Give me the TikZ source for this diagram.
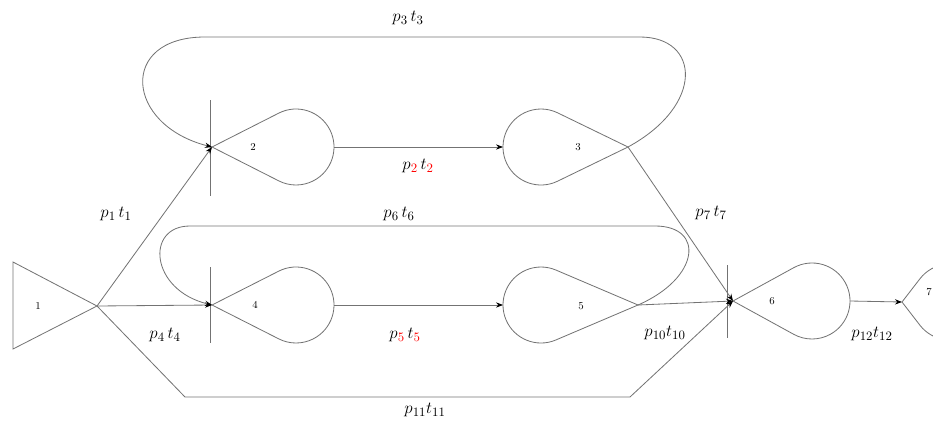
\documentclass[tikz,border=0pt]{standalone}
\usetikzlibrary{arrows.meta,calc}
\begin{document}
\begin{tikzpicture}[x=0.03cm,y=-0.03cm,
  ln/.style={draw=black!55, line width=0.7pt},
  arr/.style={ln, -{Stealth[length=6pt,width=4.5pt,black]}},
  lab/.style={font=\fontsize{15}{17}\selectfont, inner sep=1pt},
  num/.style={font=\small, inner sep=0pt}]
\useasboundingbox (0,0) rectangle (933,421);
\clip (0,0) rectangle (933,421);
% #1 apex, #2 centre, #3 direction of apex seen from centre, #4 apex distance (px)
\newcommand\tear[4]{\draw[ln] (#1) -- ($(#2)+({#3-acos(38/#4)}:1.14cm)$)
   arc[start angle={#3-acos(38/#4)}, end angle={#3+acos(38/#4)-360}, radius=1.14cm] -- cycle;}
% apexes and centres
\coordinate (a1) at (97,306);
\coordinate (a2) at (212,147); \coordinate (c2) at (296,147);
\coordinate (a3) at (628,147); \coordinate (c3) at (541,147);
\coordinate (a4) at (212,305); \coordinate (c4) at (296,305);
\coordinate (a5) at (638,305); \coordinate (c5) at (541,305);
\coordinate (a6) at (733,301); \coordinate (c6) at (812,301);
\coordinate (a7) at (902,302); \coordinate (c7) at (950,302);
\coordinate (e2) at (334,147); \coordinate (w3) at (503,147);
\coordinate (e4) at (334,305); \coordinate (w5) at (503,305);
\coordinate (e6) at (850,301);
% node 1
\draw[ln] (13,262) -- (a1) -- (13,349) -- cycle;
\node[num] (n1) at (38,306) {1};
% node 2
\draw[ln] (210,100) -- (210,196);
\tear{a2}{c2}{180}{84}
\node[num] (n2) at (253,147) {2};
% node 3
\tear{a3}{c3}{0}{87}
\node[num] (n3) at (578,147) {3};
% node 4
\draw[ln] (210,267) -- (210,343);
\tear{a4}{c4}{180}{84}
\node[num] (n4) at (255,305) {4};
% node 5
\tear{a5}{c5}{0}{97}
\node[num] (n5) at (581,306) {5};
% node 6
\draw[ln] (727,265) -- (727,338);
\tear{a6}{c6}{180}{79}
\node[num] (n6) at (772,301) {6};
% node 7
\tear{a7}{c7}{180}{48}
\node[num] (n7) at (929,292) {7};
% connectors
\draw[arr] (a1) -- (a2);
\draw[arr] (a1) -- (a4);
\draw[arr] (a1) -- (185,397) -- (630,397) -- (a6);
\draw[arr] (e2) -- (w3);
\draw[arr] (a3) .. controls (705,105) and (700,37) .. (640,37) -- (205,37) .. controls (118,37) and (125,125) .. (a2);
\draw[arr] (a3) -- (a6);
\draw[arr] (e4) -- (w5);
\draw[arr] (a5) .. controls (700,278) and (705,226) .. (655,226) -- (190,226) .. controls (145,226) and (150,290) .. (a4);
\draw[arr] (a5) -- (a6);
\draw[arr] (e6) -- (a7);
% labels
\node[lab] (l3) at (408,18) {$p_3\,t_3$};
\node[lab] (l1) at (116,214) {$p_1\,t_1$};
\node[lab] (l2) at (418,166) {$p_{\textcolor{red}{2}}\,t_{\textcolor{red}{2}}$};
\node[lab] (l7) at (711,213) {$p_7\,t_7$};
\node[lab] (l6) at (399,214) {$p_6\,t_6$};
\node[lab] (l4) at (165,335) {$p_4\,t_4$};
\node[lab] (l5) at (405,335) {$p_{\textcolor{red}{5}}\,t_{\textcolor{red}{5}}$};
\node[lab] (l10) at (665,333) {$p_{10}t_{10}$};
\node[lab] (l11) at (425,410) {$p_{11}t_{11}$};
\node[lab] (l12) at (872,334) {$p_{12}t_{12}$};
\end{tikzpicture}
\end{document}
